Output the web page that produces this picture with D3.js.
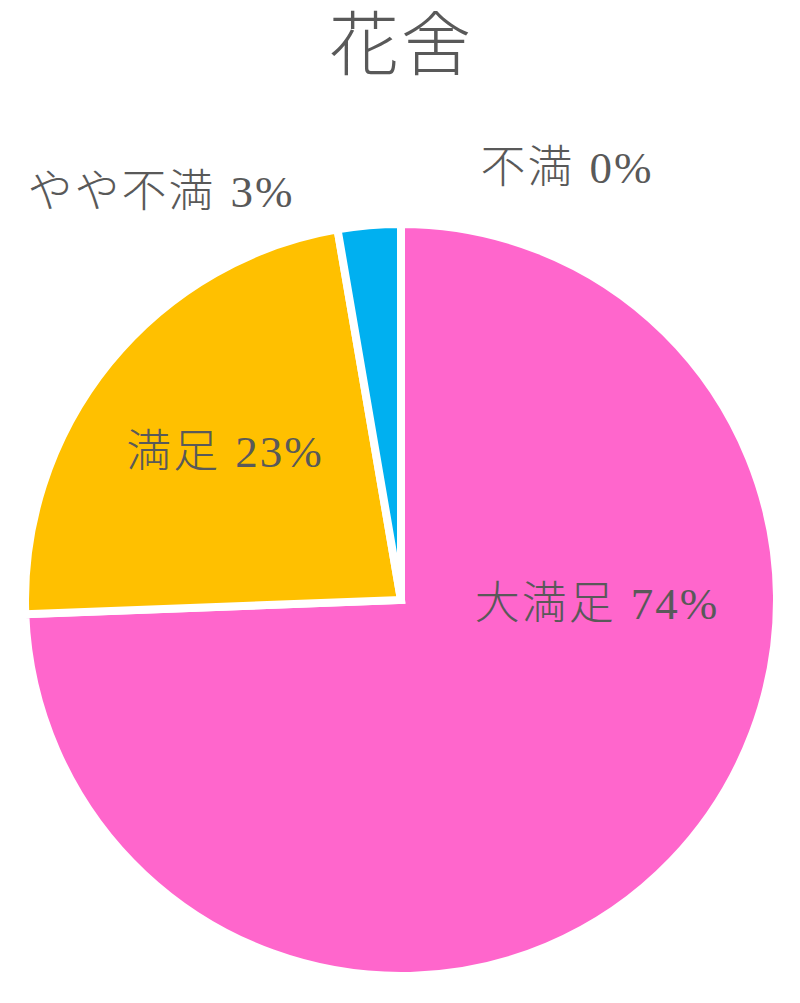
<!DOCTYPE html>
<html>
<head>
<meta charset="utf-8">
<script src="https://cdn.jsdelivr.net/npm/d3@7"></script>
<style>
  body { margin: 0; background: #fff; }
  text { font-family: "Liberation Serif", "Noto Sans CJK JP", serif; fill: #595959; font-weight: 300; }
</style>
</head>
<body>
<svg id="chart" width="800" height="1003"></svg>
<script>
'use strict';

var title = '花舍';
var categories = ['大満足', '満足', 'やや不満', '不満'];
var values = [74.4, 22.9, 2.7, 0];
var percentLabels = ['74%', '23%', '3%', '0%'];
var colors = ['#FF66CC', '#FFC000', '#00B0F0', '#A5A5A5'];

var width = 800, height = 1003;
var cx = 401, cy = 600, radius = 376;

var svg = d3.select('#chart');

svg.append('text')
    .attr('x', cx)
    .attr('y', 46)
    .attr('text-anchor', 'middle')
    .attr('dominant-baseline', 'central')
    .style('font-size', '70px')
    .style('letter-spacing', '2px')
    .text(title);

var pie = d3.pie().sort(null).value(function(d) { return d; });
var arcs = pie(values);

var arc = d3.arc().innerRadius(0).outerRadius(radius);

var g = svg.append('g').attr('transform', 'translate(' + cx + ',' + cy + ')');

g.selectAll('path')
    .data(arcs)
    .enter()
    .append('path')
    .attr('d', arc)
    .attr('fill', function(d, i) { return colors[i]; })
    .attr('stroke', '#fff')
    .attr('stroke-width', 8)
    .attr('stroke-linejoin', 'miter');

// label positions: inside for big slices, outside for small ones
var labelPos = [
    [597, 604],
    [225, 452],
    [161, 192],
    [567, 168]
];

var labels = svg.selectAll('text.label')
    .data(arcs)
    .enter()
    .append('text')
    .attr('class', 'label')
    .attr('x', function(d, i) { return labelPos[i][0]; })
    .attr('y', function(d, i) { return labelPos[i][1]; })
    .attr('text-anchor', 'middle')
    .attr('dominant-baseline', 'central')
    .style('font-size', '45px')
    .style('letter-spacing', '2px');

labels.append('tspan')
    .text(function(d, i) { return categories[i]; });
labels.append('tspan')
    .attr('dx', 15)
    .text(function(d, i) { return percentLabels[i]; });
</script>
</body>
</html>
